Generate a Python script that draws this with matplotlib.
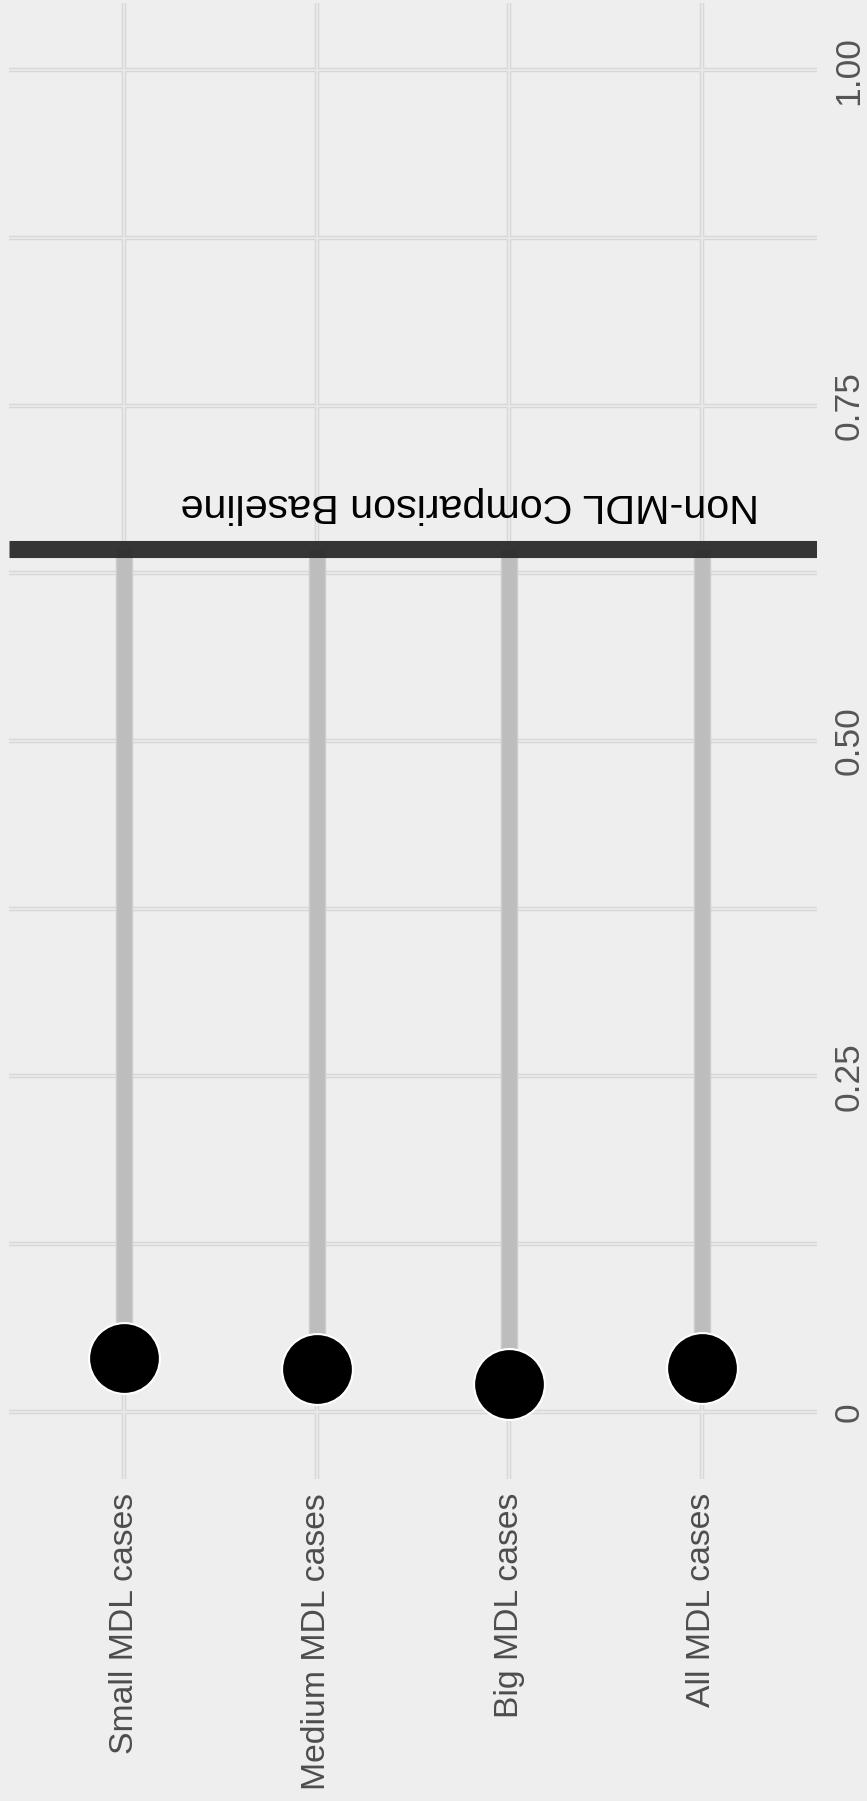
import matplotlib
matplotlib.use("Agg")
import matplotlib.pyplot as plt

categories = ["Small MDL cases", "Medium MDL cases", "Big MDL cases", "All MDL cases"]
values = [0.040, 0.032, 0.021, 0.033]
baseline = 0.643
baseline_label = "Non-MDL Comparison Baseline"
major_ticks = [0, 0.25, 0.50, 0.75, 1.00]
major_labels = ["0", "0.25", "0.50", "0.75", "1.00"]
minor_ticks = [0.125, 0.375, 0.625, 0.875]

plt.rcParams['font.family'] = ['Liberation Sans', 'DejaVu Sans']

BG = '#eeeeee'
fig = plt.figure(figsize=(8.67, 18.01), dpi=100, facecolor=BG)
ax = fig.add_axes([9/867, 1 - 1479/1801, (817 - 9)/867, (1479 - 3)/1801])
ax.set_facecolor(BG)
for s in ax.spines.values():
    s.set_visible(False)

ax.set_xlim(-0.6, 3.6)
ax.set_ylim(-0.05, 1.05)

pos = list(range(len(categories)))

# grid lines (light bands with thin darker edges)
def hgrid(y):
    ax.axhline(y, color='#d4d4d4', lw=3.2, zorder=0.5)
    ax.axhline(y, color='#e8e8e8', lw=1.7, zorder=0.6)

def vgrid(x):
    ax.axvline(x, color='#d4d4d4', lw=3.2, zorder=0.5)
    ax.axvline(x, color='#e8e8e8', lw=1.7, zorder=0.6)

for y in major_ticks + minor_ticks:
    hgrid(y)
for x in pos:
    vgrid(x)

# stems
for x, v in zip(pos, values):
    ax.plot([x, x], [v, baseline], color='#cccccc', lw=12.5, solid_capstyle='butt', zorder=2)
    ax.plot([x, x], [v, baseline], color='#bdbdbd', lw=10.5, solid_capstyle='butt', zorder=2.1)

# baseline bar
ax.axhline(baseline, color='#2b2b2b', lw=12.3, alpha=0.95, zorder=3, solid_capstyle='butt')
ax.text(3.297, 0.662, baseline_label, rotation=180, ha='right', va='bottom',
        fontsize=29.7, color='black', zorder=4)

# markers
ax.plot(pos, values, 'o', color='black', markersize=51, markeredgecolor='white',
        markeredgewidth=1.5, zorder=5, linestyle='none')

ax.set_xticks(pos)
ax.set_xticklabels(categories, rotation=90, fontsize=24.3, color='#4d4d4d', va='top', ha='center')
ax.set_yticks(major_ticks)
ax.set_yticklabels(major_labels, rotation=90, fontsize=25.5, color='#555555', va='center')
ax.yaxis.tick_right()
ax.tick_params(axis='both', length=0)
ax.tick_params(axis='x', pad=10)
ax.tick_params(axis='y', pad=11)
ax.grid(False)

fig.savefig("out.png", dpi=100, facecolor=BG)
